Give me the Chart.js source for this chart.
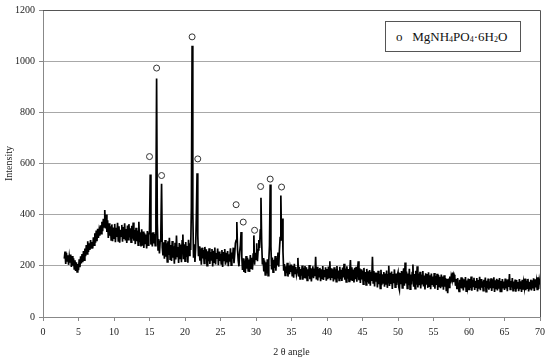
<!DOCTYPE html>
<html>
<head>
<meta charset="utf-8">
<script src="https://cdn.jsdelivr.net/npm/chart.js@4.4.1/dist/chart.umd.min.js"></script>
<style>
  body { margin: 0; background: #fff; }
  #wrap { position: relative; width: 550px; height: 361px; }
  #legendBox {
    position: absolute; left: 385px; top: 21px; width: 134px; height: 29px;
    border: 1px solid #555; background: #fff;
    font-family: "Liberation Serif", serif; font-size: 13px; color: #111;
    line-height: 29px; white-space: nowrap;
  }
  #legendBox .mk { display: inline-block; margin-left: 10px; width: 13px; }
  #legendBox sub { font-size: 8px; vertical-align: -1px; }
</style>
</head>
<body>
<div id="wrap">
  <canvas id="xrdChart" width="550" height="361"></canvas>
  <div id="legendBox"><span class="mk">o</span> MgNH<sub>4</sub>PO<sub>4</sub>·6H<sub>2</sub>O</div>
</div>
<script>
// scan: 2θ from 3.0 to 70.0, step 0.1 (one row = one degree)
const thetaStart = 3.0;
const thetaStep = 0.1;
const intensity = [
  228, 256, 207, 251, 219, 241, 204, 236, 212, 244,
  196, 238, 201, 229, 188, 222, 180, 214, 176, 207,
  183, 226, 195, 237, 209, 246, 214, 258, 222, 268,
  238, 281, 247, 296, 254, 288, 262, 301, 270, 293,
  268, 312, 281, 327, 290, 338, 296, 345, 309, 337,
  318, 358, 326, 372, 335, 384, 352, 418, 346, 401,
  332, 378, 309, 366, 318, 355, 301, 362, 296, 350,
  308, 364, 292, 349, 313, 368, 297, 355, 290, 341,
  316, 360, 294, 352, 305, 366, 299, 344, 289, 358,
  302, 363, 311, 347, 293, 357, 306, 369, 298, 340,
  285, 349, 296, 338, 281, 372, 292, 331, 276, 343,
  279, 334, 270, 327, 288, 322, 268, 336, 281, 318,
  335, 557, 283, 329, 276, 331, 288, 324, 279, 410,
  932, 365, 262, 305, 248, 296, 330, 521, 272, 241,
  292, 228, 301, 236, 288, 215, 296, 243, 310, 226,
  281, 219, 297, 232, 276, 208, 290, 225, 318, 237,
  274, 211, 289, 229, 283, 214, 298, 322, 226, 284,
  218, 293, 235, 277, 212, 302, 241, 288, 262, 430,
  1060, 410, 232, 284, 215, 273, 395, 562, 318, 238,
  276, 220, 268, 204, 271, 229, 262, 210, 274, 226,
  265, 201, 257, 218, 269, 207, 254, 223, 266, 198,
  259, 214, 272, 205, 250, 227, 268, 202, 256, 219,
  247, 208, 262, 196, 254, 221, 266, 204, 251, 213,
  258, 199, 245, 216, 269, 203, 252, 228, 271, 210,
  246, 289, 300, 371, 262, 221, 198, 255, 280, 332,
  236, 184, 229, 176, 221, 172, 238, 189, 231, 180,
  225, 176, 242, 191, 232, 185, 246, 319, 204, 251,
  226, 288, 218, 262, 301, 270, 340, 466, 292, 205,
  230, 178, 221, 165, 214, 170, 226, 162, 219, 280,
  518, 276, 186, 232, 175, 224, 192, 238, 181, 229,
  203, 252, 197, 263, 310, 475, 298, 385, 255, 181,
  207, 163, 198, 171, 212, 158, 201, 167, 194, 176,
  205, 162, 199, 154, 208, 170, 195, 166, 183, 231,
  158, 196, 149, 188, 162, 201, 146, 192, 155, 199,
  151, 194, 143, 187, 160, 203, 148, 191, 139, 185,
  198, 152, 189, 160, 235, 147, 196, 143, 188, 158,
  192, 140, 186, 151, 199, 145, 183, 156, 194, 142,
  187, 148, 197, 155, 218, 144, 190, 153, 185, 139,
  194, 147, 186, 138, 199, 151, 182, 143, 196, 149,
  184, 141, 193, 155, 208, 146, 189, 137, 198, 150,
  187, 139, 180, 223, 146, 194, 141, 185, 135, 192,
  148, 196, 138, 183, 218, 144, 190, 133, 186, 147,
  181, 128, 192, 140, 176, 125, 188, 136, 179, 130,
  184, 122, 177, 141, 235, 133, 180, 119, 174, 138,
  172, 115, 181, 128, 169, 112, 185, 124, 167, 133,
  176, 118, 170, 126, 182, 114, 165, 200, 121, 173,
  129, 178, 110, 168, 132, 186, 117, 170, 125, 164,
  175, 119, 106, 172, 128, 180, 114, 163, 190, 122,
  213, 131, 178, 112, 170, 124, 188, 109, 166, 127,
  174, 205, 118, 168, 111, 181, 126, 198, 115, 170,
  124, 177, 112, 166, 130, 180, 119, 162, 108, 171,
  126, 168, 114, 175, 121, 163, 109, 170, 128, 158,
  118, 172, 111, 160, 125, 169, 106, 164, 120, 157,
  113, 166, 122, 158, 107, 163, 119, 152, 104, 149,
  93, 150, 116, 158, 131, 160, 148, 174, 136, 165,
  156, 122, 148, 109, 152, 118, 100, 146, 113, 155,
  112, 151, 104, 147, 116, 156, 101, 143, 119, 150,
  108, 149, 114, 158, 103, 145, 120, 153, 106, 141,
  117, 152, 100, 144, 111, 157, 105, 148, 115, 139,
  103, 146, 118, 154, 99, 142, 112, 150, 107, 138,
  113, 151, 102, 147, 116, 155, 98, 143, 109, 149,
  104, 145, 111, 152, 100, 141, 97, 148, 115, 139,
  106, 150, 112, 143, 101, 147, 118, 168, 108, 141,
  116, 152, 103, 139, 110, 146, 99, 144, 114, 137,
  101, 148, 112, 140, 98, 145, 107, 136, 115, 150,
  105, 141, 113, 149, 100, 138, 111, 146, 104, 143,
  112, 151, 102, 147, 116, 139, 108, 155, 110, 144,
  126
];

// MgNH4PO4·6H2O peak markers (circles above the reflections)
const markerTheta = [15.0, 16.0, 16.7, 21.0, 21.8, 27.2, 28.2, 29.8, 30.65, 32.0, 33.6];
const markerIntensity = [627, 973, 553, 1095, 618, 439, 371, 339, 510, 539, 508];

const xTicks = [0, 70, 5];     // min, max, step
const yTicks = [0, 1200, 200];

const scanPoints = intensity.map((v, i) => ({ x: +(thetaStart + i * thetaStep).toFixed(1), y: v }));
const markerPoints = markerTheta.map((t, i) => ({ x: t, y: markerIntensity[i] }));

const serif = "'Liberation Serif', 'Times New Roman', serif";

const frame = {
  id: "frame",
  afterDraw(chart) {
    const { ctx, chartArea: a } = chart;
    ctx.save();
    ctx.strokeStyle = "#555";
    ctx.lineWidth = 1;
    ctx.beginPath();
    ctx.moveTo(a.left, a.top + 0.5);
    ctx.lineTo(a.right + 0.5, a.top + 0.5);
    ctx.lineTo(a.right + 0.5, a.bottom);
    ctx.stroke();
    ctx.restore();
  }
};

new Chart(document.getElementById("xrdChart"), {
  type: "scatter",
  data: {
    datasets: [
      {
        label: "MgNH4PO4·6H2O",
        data: markerPoints,
        pointStyle: "circle",
        pointRadius: 3,
        pointBorderWidth: 1,
        pointBorderColor: "#333",
        pointBackgroundColor: "#fff",
        showLine: false,
        order: 0
      },
      {
        label: "scan",
        data: scanPoints,
        showLine: true,
        borderColor: "#000",
        borderWidth: 1.7,
        pointRadius: 0,
        tension: 0,
        order: 1
      }
    ]
  },
  options: {
    responsive: false,
    animation: false,
    layout: { padding: { top: 9, right: 10, left: 0, bottom: 0 } },
    plugins: { legend: { display: false }, tooltip: { enabled: false } },
    scales: {
      x: {
        type: "linear",
        min: xTicks[0], max: xTicks[1],
        afterFit: s => { s.height = 44; },
        ticks: { stepSize: xTicks[2], color: "#222", font: { family: serif, size: 10 }, padding: 5, maxRotation: 0 },
        grid: { drawOnChartArea: false, tickLength: 4, tickColor: "#888" },
        border: { color: "#888" },
        title: { display: true, text: "2 θ angle", color: "#222", font: { family: serif, size: 10 }, padding: { top: 0, bottom: 3 } }
      },
      y: {
        min: yTicks[0], max: yTicks[1],
        afterFit: s => { s.width = 43; },
        ticks: { stepSize: yTicks[2], color: "#222", font: { family: serif, size: 10 }, padding: 4, callback: v => String(v) },
        grid: { color: "#a8a8a8", tickLength: 4, tickColor: "#888" },
        border: { color: "#888" },
        title: { display: true, text: "Intensity", color: "#222", font: { family: serif, size: 10 }, padding: { top: 3, bottom: 0 } }
      }
    }
  },
  plugins: [frame]
});
</script>
</body>
</html>
